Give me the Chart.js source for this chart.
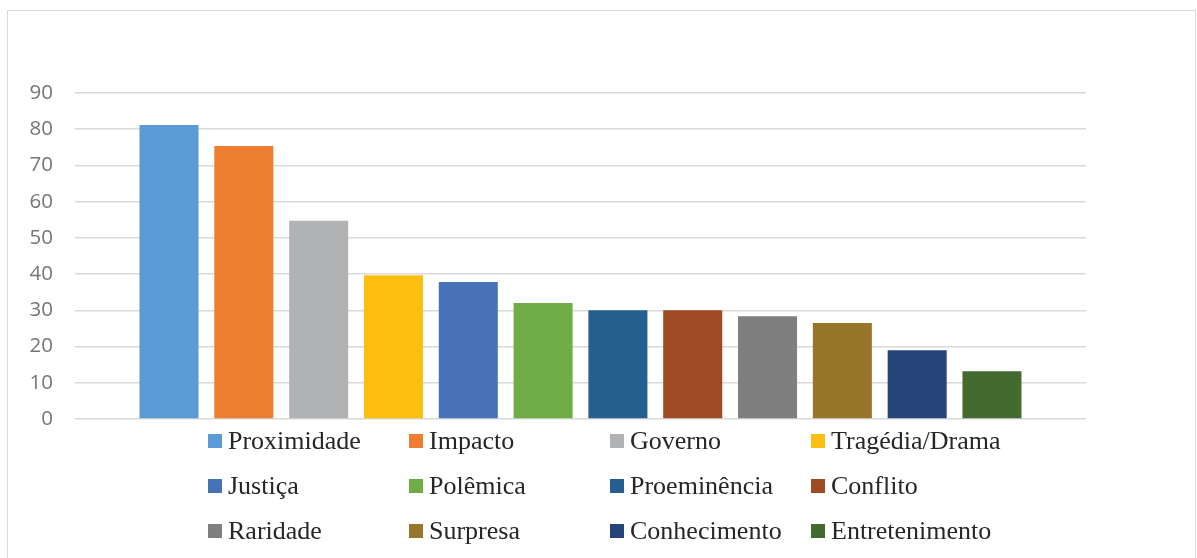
<!DOCTYPE html>
<html lang="pt">
<head>
<meta charset="utf-8">
<title>Critérios de noticiabilidade</title>
<script src="https://cdn.jsdelivr.net/npm/chart.js@4/dist/chart.umd.min.js"></script>
<style>
  html, body { margin: 0; padding: 0; background: #fff; }
  #wrap { position: relative; width: 1197px; height: 558px; overflow: hidden; }
  #frame {
    position: absolute; left: 7px; top: 10px; width: 1189px; height: 560px;
    border: 1.5px solid #d9d9d9; box-sizing: border-box;
  }
  #criteriosChart { position: absolute; left: 0; top: 0; }
  #legend {
    position: absolute; left: 208px; top: 418px;
    display: grid; grid-template-columns: repeat(4, 201px); grid-auto-rows: 45px;
    font-family: "Liberation Serif", "Times New Roman", serif; font-size: 26px; color: #262626;
  }
  .leg-item { display: flex; align-items: center; white-space: nowrap; }
  .leg-box { width: 14px; height: 14px; margin-right: 6px; flex: none; }
</style>
</head>
<body>
<div id="wrap">
  <div id="frame"></div>
  <canvas id="criteriosChart" width="1197" height="440"></canvas>
  <div id="legend"></div>
</div>
<script>
// valores por critério (%)
const criterios = [
  "Proximidade", "Impacto", "Governo", "Tragédia/Drama",
  "Justiça", "Polêmica", "Proeminência", "Conflito",
  "Raridade", "Surpresa", "Conhecimento", "Entretenimento"
];
const valores = [81.2, 75.4, 54.7, 39.7, 37.8, 32.0, 30.0, 30.0, 28.4, 26.5, 19.0, 13.2];
const cores = [
  "#5b9bd5", "#ed7d31", "#b1b2b4", "#fcbf11",
  "#4872b7", "#70ad47", "#245f90", "#9e4a22",
  "#7f7f80", "#97752b", "#264478", "#446a31"
];
const yTicks = [0, 10, 20, 30, 40, 50, 60, 70, 80, 90];

// um dataset por critério, todos na mesma categoria
const datasets = criterios.map((nome, i) => ({
  label: nome,
  data: [valores[i]],
  backgroundColor: cores[i],
  borderWidth: 0,
  categoryPercentage: 0.888,
  barPercentage: 0.789,
}));

const chart = new Chart(document.getElementById("criteriosChart"), {
  type: "bar",
  data: { labels: [""], datasets: datasets },
  options: {
    responsive: false,
    animation: false,
    layout: { padding: { top: 93, right: 111, bottom: 21, left: 0 } },
    plugins: { legend: { display: false }, tooltip: { enabled: false } },
    scales: {
      x: { display: false },
      y: {
        min: yTicks[0],
        max: yTicks[yTicks.length - 1],
        afterBuildTicks: (scale) => {
          scale.ticks = yTicks.map((v) => ({ value: v }));
        },
        afterFit: (scale) => { scale.width = 75; },
        border: { display: false },
        // marcas invisíveis só para afastar os rótulos da grelha
        grid: {
          color: "#d9d9d9",
          lineWidth: 1.5,
          drawTicks: true,
          tickLength: 22,
          tickColor: "rgba(0,0,0,0)",
        },
        ticks: {
          padding: 0,
          color: "#767676",
          font: { family: "'Open Sans', 'Noto Sans', sans-serif", size: 20.5 },
        },
      },
    },
  },
});

// legenda em 4 colunas
const legend = document.getElementById("legend");
chart.data.datasets.forEach((ds) => {
  legend.insertAdjacentHTML("beforeend", `
    <div class="leg-item">
      <span class="leg-box" style="background:${ds.backgroundColor}"></span>${ds.label}
    </div>`);
});
</script>
</body>
</html>
